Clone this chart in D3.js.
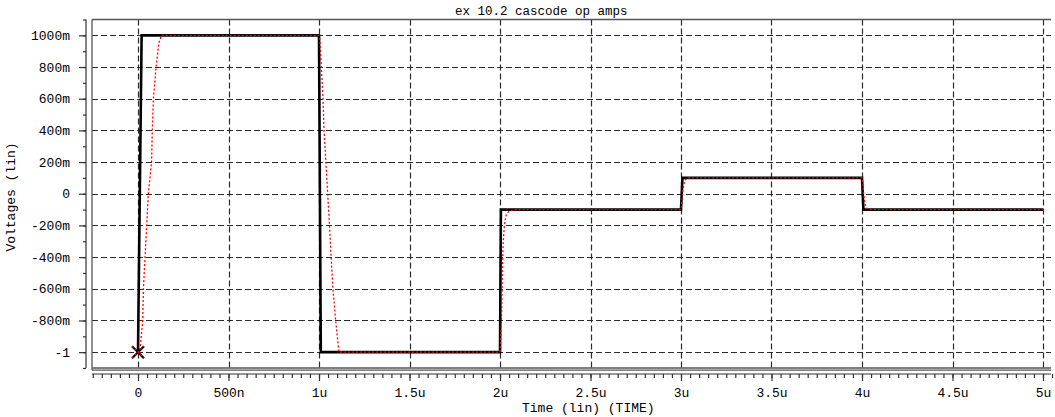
<!DOCTYPE html>
<html>
<head>
<meta charset="utf-8">
<script src="https://cdn.jsdelivr.net/npm/d3@7"></script>
<style>
  html, body { margin: 0; padding: 0; background: #fff; }
  svg { display: block; }
  text { font-family: "Liberation Mono", "DejaVu Sans Mono", monospace; font-size: 13px; fill: #000; }
</style>
</head>
<body>
<svg id="chart" width="1055" height="417"></svg>
<script>
// Transient analysis: input step (black) and op-amp output (red), time in microseconds
const inputTime  = [0, 0.02, 1.0, 1.01, 2.0, 2.005, 3.0, 3.008, 4.0, 4.008, 5.0];
const inputVolts = [-1, 1, 1, -1, -1, -0.1, -0.1, 0.1, 0.1, -0.1, -0.1];

const outputTime  = [0, 0.01, 0.026, 0.03, 0.039, 0.048, 0.057, 0.075, 0.079, 0.085, 0.1, 0.115, 0.13, 0.2,
                     1.0, 1.004, 1.013, 1.022, 1.028, 1.038, 1.048, 1.058, 1.067, 1.077, 1.092, 1.11,
                     2.0, 2.008, 2.013, 2.018, 2.025, 2.035, 2.05, 2.08,
                     3.0, 3.005, 3.01, 3.016, 3.025, 3.04,
                     4.0, 4.005, 4.01, 4.016, 4.025, 4.04, 5.0];
const outputVolts = [-1, -1, -0.8, -0.6, -0.4, -0.2, 0, 0.2, 0.4, 0.6, 0.8, 0.95, 1, 1,
                     1, 0.98, 0.8, 0.6, 0.4, 0.2, 0, -0.2, -0.4, -0.6, -0.8, -1,
                     -1, -0.8, -0.5, -0.3, -0.19, -0.13, -0.11, -0.1,
                     -0.1, -0.05, 0.02, 0.06, 0.09, 0.1,
                     0.1, 0.05, -0.01, -0.06, -0.09, -0.1, -0.1];

const xTickValues = [0, 0.5, 1, 1.5, 2, 2.5, 3, 3.5, 4, 4.5, 5];
const xTickLabels = ["0", "500n", "1u", "1.5u", "2u", "2.5u", "3u", "3.5u", "4u", "4.5u", "5u"];
const yTickValues = [1, 0.8, 0.6, 0.4, 0.2, 0, -0.2, -0.4, -0.6, -0.8, -1];
const yTickLabels = ["1000m", "800m", "600m", "400m", "200m", "0", "-200m", "-400m", "-600m", "-800m", "-1"];

const titleText = "ex 10.2 cascode op amps";
const xTitle = "Time (lin) (TIME)";
const yTitle = "Voltages (lin)";

const svg = d3.select("#chart");

// Time axis: 0 and 5u placed on the grid, visible window slightly wider
const x = d3.scaleLinear().domain([0, 5]).range([138, 1043]);
const plot = { left: 92, right: 1051, top: 19.5, bottom: 368 };
const y = d3.scaleLinear().domain([-1.1, 1.1]).range([plot.bottom, plot.top]);

// Grid
const grid = svg.append("g").attr("stroke", "#2a2a2a").attr("stroke-width", 1.2).attr("stroke-dasharray", "6,3");
grid.selectAll("line.h").data(yTickValues).join("line")
  .attr("x1", plot.left).attr("x2", plot.right)
  .attr("y1", d => Math.round(y(d)) + 0.5).attr("y2", d => Math.round(y(d)) + 0.5);
grid.selectAll("line.v").data(xTickValues).join("line")
  .attr("y1", plot.top).attr("y2", plot.bottom)
  .attr("x1", d => Math.round(x(d)) + 0.5).attr("x2", d => Math.round(x(d)) + 0.5);

// Frame: top, left and double bottom line
const frame = svg.append("g").attr("stroke", "#555").attr("stroke-width", 1.3);
frame.append("line").attr("x1", plot.left).attr("x2", plot.right).attr("y1", plot.top).attr("y2", plot.top);
frame.append("line").attr("x1", plot.left).attr("x2", plot.left).attr("y1", plot.top).attr("y2", plot.bottom + 2);
frame.append("line").attr("x1", plot.left).attr("x2", plot.right).attr("y1", plot.bottom).attr("y2", plot.bottom);
frame.append("line").attr("x1", plot.left).attr("x2", plot.right).attr("y1", plot.bottom + 2.2).attr("y2", plot.bottom + 2.2);

// Y axis with minor ticks every 100m
const yAxisX = 86;
const yMinor = d3.range(-11, 12).map(i => i / 10);
const yMajor = svg.append("g").attr("transform", `translate(${yAxisX},0)`)
  .call(d3.axisLeft(y).tickValues(yTickValues).tickFormat((d, i) => yTickLabels[i]).tickSize(7).tickPadding(9));
svg.append("g").attr("transform", `translate(${yAxisX},0)`)
  .call(d3.axisLeft(y).tickValues(yMinor).tickFormat("").tickSize(3).tickSizeOuter(0))
  .select(".domain").remove();
yMajor.select(".domain").attr("d", `M0,${plot.top}V${plot.bottom}`);

// X axis with minor ticks every 50n
const xAxisY = 374;
const xMinor = d3.range(-5, 102).map(i => i / 20);
const xMajor = svg.append("g").attr("transform", `translate(0,${xAxisY})`)
  .call(d3.axisBottom(x).tickValues(xTickValues).tickFormat((d, i) => xTickLabels[i]).tickSize(7).tickPadding(7));
svg.append("g").attr("transform", `translate(0,${xAxisY})`)
  .call(d3.axisBottom(x).tickValues(xMinor).tickFormat("").tickSize(4).tickSizeOuter(0))
  .select(".domain").remove();
xMajor.select(".domain").attr("d", `M${plot.left},0H${plot.right}`);

svg.selectAll(".tick line, .domain").attr("stroke", "#333").attr("stroke-width", 1.2);
svg.selectAll(".tick text").style("font-size", "13px").attr("fill", "#000");

// Traces
const inputData = inputTime.map((t, i) => [t, inputVolts[i]]);
const outputData = outputTime.map((t, i) => [t, outputVolts[i]]);
const line = d3.line().x(d => x(d[0])).y(d => y(d[1]));

svg.append("path").datum(inputData).attr("d", line)
  .attr("fill", "none").attr("stroke", "#000").attr("stroke-width", 2.6).attr("stroke-linejoin", "miter");
svg.append("path").datum(outputData).attr("d", line)
  .attr("fill", "none").attr("stroke", "#ff0000").attr("stroke-width", 1.3).attr("stroke-dasharray", "2,2");

// Start marker
const mx = x(inputTime[0]), my = y(inputVolts[0]), ms = 6;
const marker = svg.append("g");
[["#000", 2.2, null], ["#ff0000", 1.2, "2,2"]].forEach(([c, w, dash]) => {
  marker.append("path")
    .attr("d", `M${mx - ms},${my - ms}L${mx + ms},${my + ms}M${mx - ms},${my + ms}L${mx + ms},${my - ms}`)
    .attr("stroke", c).attr("stroke-width", w).attr("stroke-dasharray", dash).attr("fill", "none");
});

// Titles
svg.append("text").attr("x", 455).attr("y", 15).style("font-size", "12.5px").text(titleText);
svg.append("text").attr("x", 522).attr("y", 412).text(xTitle);
svg.append("text").attr("transform", "translate(15,197) rotate(-90)").attr("text-anchor", "middle").text(yTitle);
</script>
</body>
</html>
